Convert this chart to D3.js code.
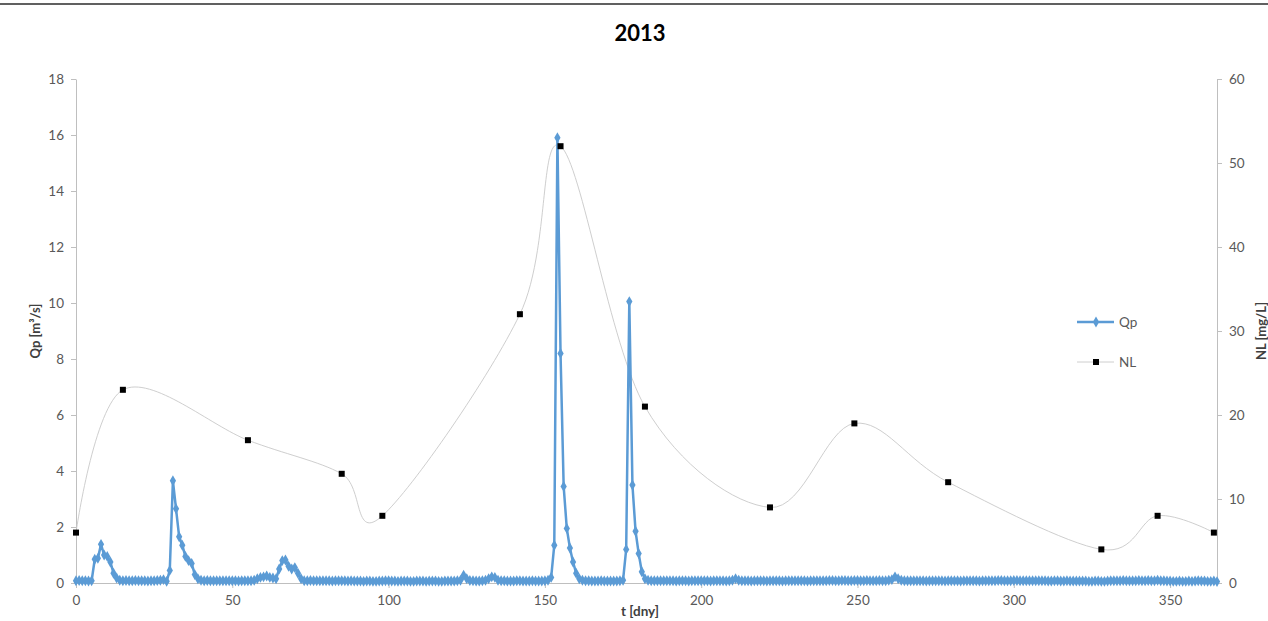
<!DOCTYPE html>
<html>
<head>
<meta charset="utf-8">
<script src="https://cdn.jsdelivr.net/npm/d3@7"></script>
<style>
  html, body { margin: 0; padding: 0; background: #fff; }
  svg { display: block; font-family: Lato, "Open Sans", sans-serif; }
</style>
</head>
<body>
<svg id="chart" width="1268" height="621"></svg>
<script>
// ---- data ----
const title = "2013";
const xTicks = [0, 50, 100, 150, 200, 250, 300, 350];
const yLeftTicks = [0, 2, 4, 6, 8, 10, 12, 14, 16, 18];
const yRightTicks = [0, 10, 20, 30, 40, 50, 60];

// Qp [m3/s], one value per day, day 0..365
const qpValues = [
  0.08,0.09,0.08,0.08,0.07,0.08,0.85,0.88,1.38,1.00,
  0.95,0.75,0.35,0.18,0.10,0.08,0.09,0.08,0.08,0.09,
  0.08,0.08,0.08,0.07,0.08,0.08,0.09,0.10,0.12,0.06,
  0.45,3.65,2.65,1.65,1.35,0.95,0.80,0.70,0.30,0.15,
  0.10,0.08,0.09,0.08,0.08,0.08,0.08,0.08,0.08,0.08,
  0.08,0.08,0.07,0.08,0.08,0.08,0.08,0.10,0.15,0.20,
  0.22,0.25,0.20,0.18,0.15,0.50,0.80,0.82,0.60,0.50,
  0.55,0.35,0.15,0.08,0.08,0.09,0.08,0.08,0.08,0.08,
  0.08,0.08,0.07,0.08,0.08,0.08,0.08,0.07,0.08,0.07,
  0.07,0.07,0.06,0.07,0.07,0.06,0.06,0.07,0.07,0.08,
  0.08,0.07,0.07,0.06,0.07,0.07,0.07,0.06,0.06,0.07,
  0.07,0.07,0.06,0.07,0.07,0.07,0.06,0.06,0.07,0.07,
  0.07,0.07,0.08,0.10,0.28,0.15,0.09,0.08,0.07,0.07,
  0.08,0.10,0.15,0.22,0.20,0.10,0.08,0.08,0.07,0.07,
  0.07,0.08,0.08,0.07,0.07,0.07,0.08,0.07,0.07,0.07,
  0.08,0.10,0.20,1.35,15.90,8.20,3.45,1.95,1.25,0.75,
  0.35,0.15,0.10,0.08,0.08,0.07,0.07,0.07,0.08,0.07,
  0.07,0.07,0.07,0.07,0.08,0.10,1.20,10.05,3.50,1.85,
  1.05,0.40,0.15,0.10,0.08,0.08,0.08,0.08,0.08,0.08,
  0.08,0.08,0.07,0.08,0.08,0.08,0.07,0.08,0.08,0.08,
  0.08,0.08,0.08,0.07,0.08,0.08,0.08,0.08,0.07,0.08,
  0.10,0.15,0.10,0.08,0.08,0.08,0.07,0.08,0.08,0.08,
  0.08,0.07,0.08,0.08,0.08,0.08,0.07,0.08,0.08,0.08,
  0.08,0.08,0.08,0.08,0.07,0.08,0.08,0.08,0.08,0.08,
  0.08,0.09,0.09,0.08,0.08,0.09,0.09,0.08,0.08,0.09,
  0.09,0.08,0.08,0.09,0.08,0.08,0.08,0.09,0.08,0.08,
  0.10,0.12,0.22,0.15,0.10,0.08,0.08,0.08,0.08,0.08,
  0.08,0.08,0.07,0.08,0.08,0.08,0.08,0.08,0.07,0.08,
  0.08,0.08,0.08,0.07,0.08,0.08,0.08,0.08,0.08,0.07,
  0.08,0.08,0.08,0.08,0.08,0.09,0.09,0.08,0.08,0.08,
  0.09,0.09,0.08,0.08,0.08,0.08,0.08,0.08,0.08,0.08,
  0.08,0.07,0.07,0.08,0.08,0.07,0.07,0.08,0.07,0.07,
  0.07,0.07,0.07,0.07,0.06,0.06,0.07,0.07,0.06,0.06,
  0.07,0.08,0.08,0.08,0.08,0.09,0.08,0.08,0.08,0.08,
  0.09,0.08,0.08,0.09,0.08,0.08,0.10,0.08,0.08,0.07,
  0.07,0.06,0.06,0.07,0.06,0.06,0.07,0.06,0.07,0.08,
  0.07,0.07,0.06,0.06,0.07,0.05
];

// NL [mg/L] sampling days and values
const nlDays   = [0, 15, 55, 85, 98, 142, 155, 182, 222, 249, 279, 328, 346, 364];
const nlValues = [6, 23, 17, 13, 8, 32, 52, 21, 9, 19, 12, 4, 8, 6];

// ---- layout ----
const svg = d3.select("#chart");
const W = 1268, H = 621;
const m = { left: 76, right: 1217, top: 79, bottom: 583 };

const x = d3.scaleLinear().domain([0, 365]).range([m.left, m.right]);
const yL = d3.scaleLinear().domain([0, 18]).range([m.bottom, m.top]);
const yR = d3.scaleLinear().domain([0, 60]).range([m.bottom, m.top]);

const axisColor = "#bfbfbf";
const textColor = "#595959";

// top border
svg.append("line").attr("x1", 0).attr("x2", W).attr("y1", 4).attr("y2", 4)
  .attr("stroke", "#2b2b2b").attr("stroke-width", 1.5);

// title
svg.append("text").attr("x", 640).attr("y", 41).attr("text-anchor", "middle")
  .attr("font-size", 22).attr("font-weight", "bold").attr("fill", "#000").text(title);

function styleAxis(g) {
  g.select(".domain").attr("stroke", axisColor);
  g.selectAll(".tick line").attr("stroke", axisColor);
  g.selectAll(".tick text").attr("fill", textColor).attr("font-size", 13.5)
    .attr("font-family", "Lato, 'Open Sans', sans-serif");
}

// axes
const gx = svg.append("g").attr("transform", `translate(0,${m.bottom})`)
  .call(d3.axisBottom(x).tickValues(xTicks).tickSize(5).tickSizeOuter(0).tickPadding(7));
styleAxis(gx);

const gyl = svg.append("g").attr("transform", `translate(${m.left},0)`)
  .call(d3.axisLeft(yL).tickValues(yLeftTicks).tickSize(5).tickSizeOuter(0).tickPadding(7));
styleAxis(gyl);

const gyr = svg.append("g").attr("transform", `translate(${m.right},0)`)
  .call(d3.axisRight(yR).tickValues(yRightTicks).tickSize(5).tickSizeOuter(0).tickPadding(7));
styleAxis(gyr);

// axis titles
svg.append("text").attr("x", 640).attr("y", 616).attr("text-anchor", "middle")
  .attr("font-size", 13.5).attr("font-weight", "bold").attr("fill", "#404040").text("t [dny]");
svg.append("text").attr("transform", "translate(40,331) rotate(-90)").attr("text-anchor", "middle")
  .attr("font-size", 13).attr("font-weight", "bold").attr("fill", "#404040").text("Qp [m³/s]");
svg.append("text").attr("transform", "translate(1266,331) rotate(-90)").attr("text-anchor", "middle")
  .attr("font-size", 13).attr("font-weight", "bold").attr("fill", "#404040").text("NL [mg/L]");

// NL smoothed line
const nlData = nlDays.map((d, i) => ({ d, v: nlValues[i] }));
const nlLine = d3.line().x(p => x(p.d)).y(p => yR(p.v)).curve(d3.curveCardinal.tension(0));
svg.append("path").datum(nlData).attr("d", nlLine)
  .attr("fill", "none").attr("stroke", "#c8c8c8").attr("stroke-width", 0.9);

// Qp line
const qpColor = "#5b9bd5";
const qpData = qpValues.map((v, i) => ({ d: i, v }));
const qpLine = d3.line().x(p => x(p.d)).y(p => yL(p.v));
svg.append("path").datum(qpData).attr("d", qpLine)
  .attr("fill", "none").attr("stroke", qpColor).attr("stroke-width", 2.5)
  .attr("stroke-linejoin", "round");

const diamond = d3.symbol().type(d3.symbolDiamond).size(34);
svg.append("g").selectAll("path").data(qpData).join("path")
  .attr("transform", p => `translate(${x(p.d)},${yL(p.v)})`)
  .attr("d", diamond).attr("fill", qpColor);

// NL markers
svg.append("g").selectAll("rect").data(nlData).join("rect")
  .attr("x", p => x(p.d) - 3).attr("y", p => yR(p.v) - 3)
  .attr("width", 6).attr("height", 6).attr("fill", "#000");

// legend
const lg = svg.append("g");
lg.append("line").attr("x1", 1077).attr("x2", 1114).attr("y1", 322).attr("y2", 322)
  .attr("stroke", qpColor).attr("stroke-width", 2.5);
lg.append("path").attr("transform", "translate(1096,322)").attr("d", diamond).attr("fill", qpColor);
lg.append("text").attr("x", 1119).attr("y", 327).attr("font-size", 13.5).attr("fill", textColor).text("Qp");
lg.append("line").attr("x1", 1077).attr("x2", 1114).attr("y1", 362).attr("y2", 362)
  .attr("stroke", "#c8c8c8").attr("stroke-width", 0.9);
lg.append("rect").attr("x", 1093).attr("y", 359).attr("width", 6).attr("height", 6).attr("fill", "#000");
lg.append("text").attr("x", 1119).attr("y", 367).attr("font-size", 13.5).attr("fill", textColor).text("NL");
</script>
</body>
</html>
